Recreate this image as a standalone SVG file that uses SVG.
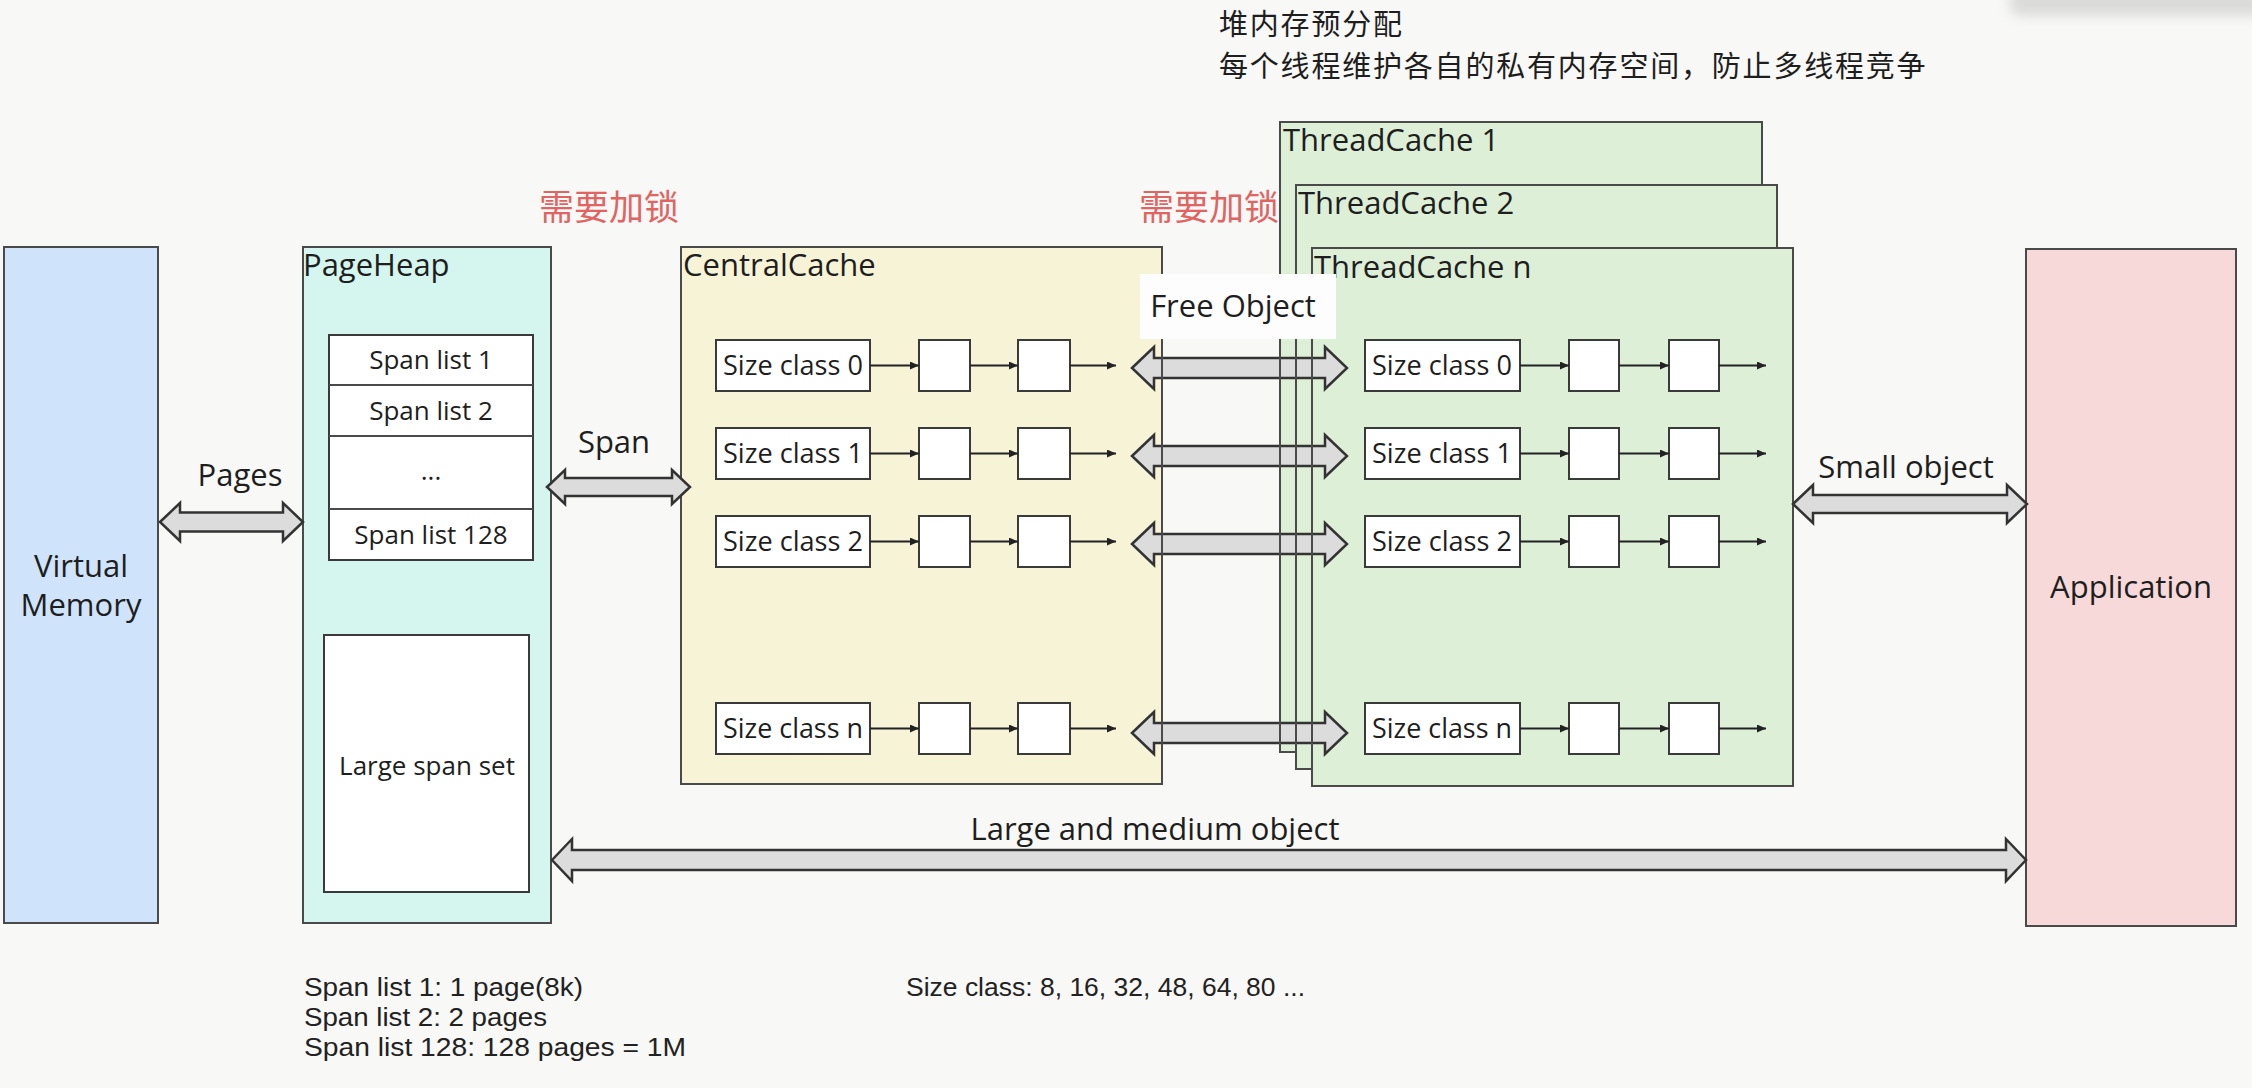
<svg xmlns="http://www.w3.org/2000/svg" width="2252" height="1088" viewBox="0 0 2252 1088">
<style>
.box{stroke:#4a4a4a;stroke-width:2}
.w{fill:#ffffff;stroke:#3a3a3a;stroke-width:2}
.t{font-family:"Open Sans","Noto Sans",sans-serif;fill:#1e1e1e}
.big{font-size:31px}
.mid{font-size:26px}
.sc{font-size:27px}
.note{font-family:"Liberation Sans",Arial,sans-serif;font-size:26px;fill:#222}
.cn{font-family:"Noto Sans CJK SC","Noto Sans",sans-serif}
.top{font-size:29px;letter-spacing:1.8px}
.red{fill:#e06462;font-size:35px}
.arr{fill:#dcdcdc;stroke:#333;stroke-width:2.5;stroke-linejoin:miter}
.ln{stroke:#222;stroke-width:2;fill:none;marker-end:url(#ah)}
.edge{stroke:#4a4a4a;stroke-width:2}
</style>
<defs>
<marker id="ah" markerUnits="userSpaceOnUse" markerWidth="9" markerHeight="8" refX="9" refY="4" orient="auto"><path d="M0,0 L9,4 L0,8 z" fill="#222"/></marker>
<path id="fo" d="M1132,0 L1154,-21 L1154,-10 L1325,-10 L1325,-21 L1347,0 L1325,21 L1325,10 L1154,10 L1154,21 Z"/>
<filter id="blur" x="-20%" y="-100%" width="140%" height="300%"><feGaussianBlur stdDeviation="6"/></filter>
</defs>
<rect width="2252" height="1088" fill="#f8f8f6"/>
<rect x="2010" y="-14" width="260" height="30" rx="10" fill="#cfcfcf" opacity="0.7" filter="url(#blur)"/>

<text class="t cn top" x="1219" y="35">堆内存预分配</text>
<text class="t cn top" x="1219" y="77">每个线程维护各自的私有内存空间，防止多线程竞争</text>
<text class="cn red" x="539" y="220">需要加锁</text>
<text class="cn red" x="1139" y="220">需要加锁</text>

<g id="virtual-memory">
<rect class="box" x="4" y="247" width="154" height="676" fill="#cfe4fa"/>
<text class="t big" x="81" y="577" text-anchor="middle">Virtual</text>
<text class="t big" x="81" y="616" text-anchor="middle">Memory</text>
</g>

<g id="page-heap">
<rect class="box" x="303" y="247" width="248" height="676" fill="#d5f5ef"/>
<text class="t big" x="303" y="276">PageHeap</text>
<rect class="w" x="329" y="335" width="204" height="225"/>
<line class="edge" x1="329" y1="385" x2="533" y2="385"/>
<line class="edge" x1="329" y1="436" x2="533" y2="436"/>
<line class="edge" x1="329" y1="509" x2="533" y2="509"/>
<text class="t mid" x="431" y="369" text-anchor="middle">Span list 1</text>
<text class="t mid" x="431" y="420" text-anchor="middle">Span list 2</text>
<text class="t mid" x="431" y="480" text-anchor="middle">...</text>
<text class="t mid" x="431" y="544" text-anchor="middle">Span list 128</text>
<rect class="w" x="324" y="635" width="205" height="257"/>
<text class="t mid" x="427" y="775" text-anchor="middle">Large span set</text>
</g>

<g id="central-cache">
<rect class="box" x="681" y="247" width="481" height="537" fill="#f7f3d7"/>
<text class="t big" x="683" y="276">CentralCache</text>
<rect class="w" x="716" y="340" width="154" height="51"/>
<rect class="w" x="919" y="340" width="51" height="51"/>
<rect class="w" x="1018" y="340" width="52" height="51"/>
<rect class="w" x="716" y="428" width="154" height="51"/>
<rect class="w" x="919" y="428" width="51" height="51"/>
<rect class="w" x="1018" y="428" width="52" height="51"/>
<rect class="w" x="716" y="516" width="154" height="51"/>
<rect class="w" x="919" y="516" width="51" height="51"/>
<rect class="w" x="1018" y="516" width="52" height="51"/>
<rect class="w" x="716" y="703" width="154" height="51"/>
<rect class="w" x="919" y="703" width="51" height="51"/>
<rect class="w" x="1018" y="703" width="52" height="51"/>
<text class="t sc" x="793" y="375" text-anchor="middle" textLength="140" lengthAdjust="spacingAndGlyphs">Size class 0</text>
<text class="t sc" x="793" y="463" text-anchor="middle" textLength="140" lengthAdjust="spacingAndGlyphs">Size class 1</text>
<text class="t sc" x="793" y="551" text-anchor="middle" textLength="140" lengthAdjust="spacingAndGlyphs">Size class 2</text>
<text class="t sc" x="793" y="738" text-anchor="middle" textLength="140" lengthAdjust="spacingAndGlyphs">Size class n</text>
</g>

<g id="thread-cache-1">
<rect class="box" x="1280" y="122" width="482" height="630" fill="#ddefd6"/>
<text class="t big" x="1283" y="151">ThreadCache 1</text>
</g>
<g id="thread-cache-2">
<rect class="box" x="1296" y="185" width="481" height="584" fill="#ddefd6"/>
<text class="t big" x="1298" y="214">ThreadCache 2</text>
</g>
<g id="thread-cache-n">
<rect class="box" x="1312" y="248" width="481" height="538" fill="#ddefd6"/>
<text class="t big" x="1314" y="278">ThreadCache n</text>
<rect class="w" x="1365" y="340" width="155" height="51"/>
<rect class="w" x="1569" y="340" width="50" height="51"/>
<rect class="w" x="1669" y="340" width="50" height="51"/>
<rect class="w" x="1365" y="428" width="155" height="51"/>
<rect class="w" x="1569" y="428" width="50" height="51"/>
<rect class="w" x="1669" y="428" width="50" height="51"/>
<rect class="w" x="1365" y="516" width="155" height="51"/>
<rect class="w" x="1569" y="516" width="50" height="51"/>
<rect class="w" x="1669" y="516" width="50" height="51"/>
<rect class="w" x="1365" y="703" width="155" height="51"/>
<rect class="w" x="1569" y="703" width="50" height="51"/>
<rect class="w" x="1669" y="703" width="50" height="51"/>
<text class="t sc" x="1442" y="375" text-anchor="middle" textLength="140" lengthAdjust="spacingAndGlyphs">Size class 0</text>
<text class="t sc" x="1442" y="463" text-anchor="middle" textLength="140" lengthAdjust="spacingAndGlyphs">Size class 1</text>
<text class="t sc" x="1442" y="551" text-anchor="middle" textLength="140" lengthAdjust="spacingAndGlyphs">Size class 2</text>
<text class="t sc" x="1442" y="738" text-anchor="middle" textLength="140" lengthAdjust="spacingAndGlyphs">Size class n</text>
</g>

<g id="application">
<rect class="box" x="2026" y="249" width="210" height="677" fill="#f6d9d8"/>
<text class="t big" x="2131" y="598" text-anchor="middle">Application</text>
</g>

<g id="connectors">
<path class="arr" d="M160,522 L180,503 L180,512.5 L283,512.5 L283,503 L303,522 L283,541 L283,531.5 L180,531.5 L180,541 Z"/>
<path class="arr" d="M547,487 L565,470 L565,478 L672,478 L672,470 L690,487 L672,504 L672,496 L565,496 L565,504 Z"/>
<use href="#fo" class="arr" y="368"/>
<use href="#fo" class="arr" y="456"/>
<use href="#fo" class="arr" y="544"/>
<use href="#fo" class="arr" y="733"/>
<path class="arr" d="M1793,504 L1813,485 L1813,495 L2007,495 L2007,485 L2027,504 L2007,523 L2007,513 L1813,513 L1813,523 Z"/>
<path class="arr" d="M552,860 L572,839 L572,850 L2006,850 L2006,839 L2026,860 L2006,881 L2006,870 L572,870 L572,881 Z"/>
<path class="ln" d="M870,365.5 H919"/><path class="ln" d="M970,365.5 H1018"/><path class="ln" d="M1070,365.5 H1116"/>
<path class="ln" d="M870,453.5 H919"/><path class="ln" d="M970,453.5 H1018"/><path class="ln" d="M1070,453.5 H1116"/>
<path class="ln" d="M870,541.5 H919"/><path class="ln" d="M970,541.5 H1018"/><path class="ln" d="M1070,541.5 H1116"/>
<path class="ln" d="M870,728.5 H919"/><path class="ln" d="M970,728.5 H1018"/><path class="ln" d="M1070,728.5 H1116"/>
<path class="ln" d="M1520,365.5 H1569"/><path class="ln" d="M1619,365.5 H1669"/><path class="ln" d="M1719,365.5 H1766"/>
<path class="ln" d="M1520,453.5 H1569"/><path class="ln" d="M1619,453.5 H1669"/><path class="ln" d="M1719,453.5 H1766"/>
<path class="ln" d="M1520,541.5 H1569"/><path class="ln" d="M1619,541.5 H1669"/><path class="ln" d="M1719,541.5 H1766"/>
<path class="ln" d="M1520,728.5 H1569"/><path class="ln" d="M1619,728.5 H1669"/><path class="ln" d="M1719,728.5 H1766"/>
</g>

<g id="edge-overlay">
<line class="edge" x1="1162" y1="247" x2="1162" y2="784"/>
<line class="edge" x1="1280" y1="122" x2="1280" y2="752"/>
<line class="edge" x1="1296" y1="185" x2="1296" y2="769"/>
<line class="edge" x1="1312" y1="248" x2="1312" y2="786"/>
</g>

<g id="labels">
<text class="t big" x="240" y="486" text-anchor="middle">Pages</text>
<text class="t big" x="614" y="453" text-anchor="middle">Span</text>
<rect x="1140" y="274" width="196" height="65" fill="#fdfdfd"/>
<text class="t big" x="1233" y="317" text-anchor="middle">Free Object</text>
<text class="t big" x="1906" y="478" text-anchor="middle">Small object</text>
<text class="t big" x="1155" y="840" text-anchor="middle">Large and medium object</text>
<text class="note" x="304" y="996" textLength="279" lengthAdjust="spacingAndGlyphs">Span list 1: 1 page(8k)</text>
<text class="note" x="304" y="1026" textLength="243" lengthAdjust="spacingAndGlyphs">Span list 2: 2 pages</text>
<text class="note" x="304" y="1056" textLength="382" lengthAdjust="spacingAndGlyphs">Span list 128: 128 pages = 1M</text>
<text class="note" x="906" y="996" textLength="399" lengthAdjust="spacingAndGlyphs">Size class: 8, 16, 32, 48, 64, 80 ...</text>
</g>
</svg>
